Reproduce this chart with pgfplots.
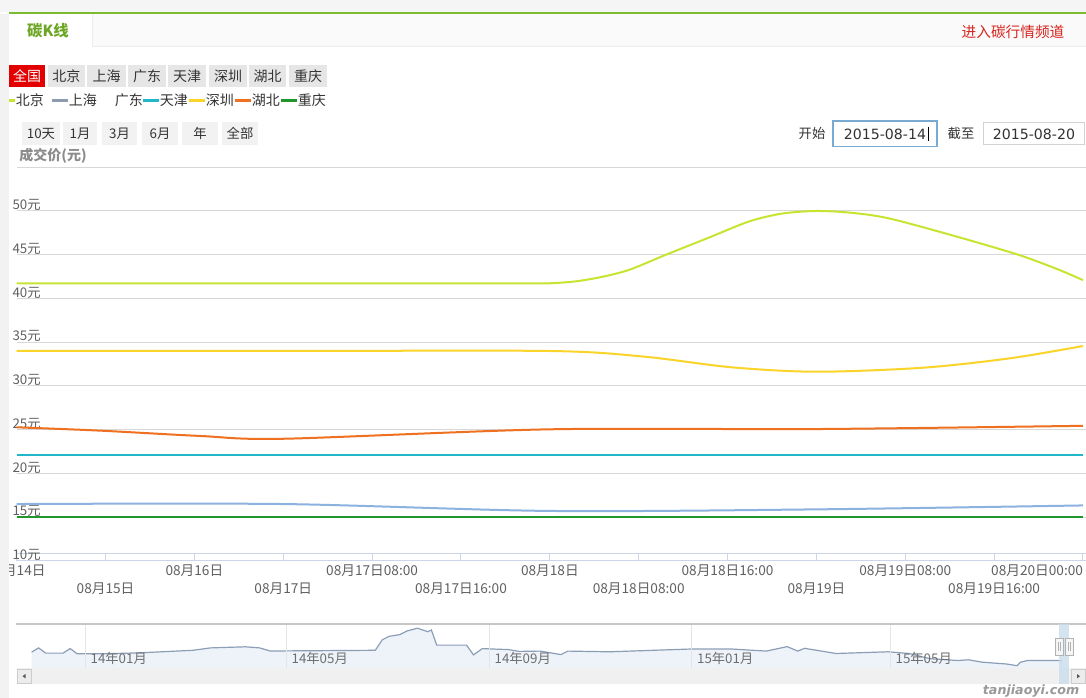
\documentclass[border=0pt]{standalone}
\usepackage{fontspec}
\setmainfont{Noto Sans CJK SC}
\newfontfamily\dejavu{DejaVu Sans}
\usepackage{pgfplots}
\pgfplotsset{compat=1.18}

\definecolor{bj}{RGB}{200,228,48}
\definecolor{sh}{RGB}{140,178,224}
\definecolor{shleg}{RGB}{140,155,175}
\definecolor{tj}{RGB}{32,184,200}
\definecolor{sz}{RGB}{250,212,40}
\definecolor{hb}{RGB}{238,112,32}
\definecolor{cq}{RGB}{32,150,44}
\definecolor{gridc}{RGB}{216,216,216}
\definecolor{axisc}{RGB}{204,214,235}
\definecolor{lab}{RGB}{96,96,96}
\definecolor{navlab}{RGB}{110,110,110}
\definecolor{txt}{RGB}{51,51,51}
\definecolor{tabgreen}{RGB}{108,166,36}
\definecolor{topgreen}{RGB}{124,186,48}
\definecolor{redlink}{RGB}{214,38,30}
\definecolor{redbtn}{RGB}{226,0,0}
\definecolor{btnbg}{RGB}{230,230,230}
\definecolor{rngbg}{RGB}{242,242,242}
\definecolor{navline}{RGB}{140,158,182}
\definecolor{navfill}{RGB}{238,243,250}
\definecolor{navgrid}{RGB}{228,228,228}
\definecolor{boxblue}{RGB}{120,170,210}

\begin{document}
\begin{tikzpicture}
\useasboundingbox (0,0) rectangle (814.5pt,-523.5pt);
\clip (0,0) rectangle (814.5pt,-523.5pt);
\begin{scope}[x=0.75pt,y=-0.75pt]
\fill[white] (0,0) rectangle (1086,698);
% top shade and header
\fill[gray!8] (0,0) rectangle (1086,12.5);
\draw[topgreen, line width=1.5pt] (9,13.5) -- (1086,13.5);
\fill[gray!4] (92,14.5) rectangle (1086,47);
\draw[gray!15, line width=0.75pt] (92,47) -- (1086,47);
\draw[gray!15, line width=0.75pt] (92,14.5) -- (92,47);
\node[text=tabgreen, font=\bfseries\fontsize{11.5}{13}\selectfont] at (48,31) {碳K线};
\node[text=redlink, font=\fontsize{11}{13}\selectfont] at (1013,32) {进入碳行情频道};
% region buttons
\fill[redbtn] (9,65) rectangle (45,87);
\node[text=white, font=\fontsize{10.5}{12}\selectfont] at (27,76) {全国};
\foreach \a/\b/\t in {48/85/北京,87/126/上海,128/166/广东,168/206/天津,209/247/深圳,249/286/湖北,289/327/重庆}{
  \fill[btnbg] (\a,65) rectangle (\b,87);
  \node[text=txt, font=\fontsize{10.5}{12}\selectfont] at ({(\a+\b)/2},76) {\t};
}
% legend row
\foreach \a/\b/\c/\t in {9/15/bj/北京,52/68/shleg/上海,98/114/white/广东,143/159/tj/天津,189/205/sz/深圳,235/251/hb/湖北,281/297/cq/重庆}{
  \draw[\c, line width=2.25pt] (\a,101) -- (\b,101);
  \node[anchor=west, inner sep=0.5pt, text=txt, font=\fontsize{10.5}{12}\selectfont] at (\b,100.5) {\t};
}
% range buttons
\foreach \a/\b/\t in {22/60/10天,63/97/1月,102/137/3月,142/178/6月,182/218/年,222/258/全部}{
  \fill[rngbg] (\a,122) rectangle (\b,145);
  \node[text=txt, font=\fontsize{10}{12}\selectfont] at ({(\a+\b)/2},133.5) {\t};
}
\node[text=gray!90, font=\bfseries\fontsize{10.5}{12}\selectfont] at (53,156) {成交价(元)};
% date inputs
\node[text=txt, font=\fontsize{10}{12}\selectfont] at (812,133) {开始};
\draw[boxblue, line width=1.1pt, fill=white] (833,121) rectangle (937,146.5);
\node[text=txt, font=\dejavu\fontsize{10.6}{12}\selectfont] at (885,134) {2015-08-14};
\draw[black, line width=0.75pt] (928,127) -- (928,141);
\node[text=txt, font=\fontsize{10}{12}\selectfont] at (961,133) {截至};
\draw[gray!35, line width=0.75pt, fill=white] (983,122.5) rectangle (1084,145);
\node[text=txt, font=\dejavu\fontsize{10.6}{12}\selectfont] at (1034,134) {2015-08-20};
\end{scope}

% ---------------- main chart ----------------
\begin{axis}[
  at={(12.525pt,-420.75pt)}, anchor=south west,
  scale only axis, width=801.975pt, height=295.3125pt,
  xmin=0, xmax=4.0113, ymin=10, ymax=55,
  axis line style={draw=none},
  ytick={15,20,...,55},
  yticklabels={15元,20元,25元,30元,35元,40元,45元,50元,{}},
  extra y ticks={10,10.914},
  extra y tick labels={10元,{}},
  extra y tick style={grid=major, major grid style={color=axisc, line width=0.75pt}, tick style={draw=none}},
  ymajorgrids, major grid style={color=gridc, line width=0.75pt},
  ytick style={draw=none},
  yticklabel style={anchor=base west, inner sep=0pt, xshift=-3.3pt, yshift=1.1pt,
    font=\fontsize{10}{12}\selectfont, text=lab},
  major tick length=6pt,
  xtick pos=bottom, tick align=inside,
  xtick style={color=axisc, line width=0.75pt},
  xtick={0,0.666667,1.333333,2,2.666667,3.333333,4},
  xticklabels={08月14日,08月16日,08月17日08:00,08月18日,08月18日16:00,08月19日08:00,\llap{08月20日00:00}},
  extra x ticks={0.333333,1,1.666667,2.333333,3,3.666667},
  extra x tick labels={08月15日,08月17日,08月17日16:00,08月18日08:00,08月19日,08月19日16:00},
  extra x tick style={xticklabel style={yshift=-13.5pt}},
  xticklabel style={anchor=base, inner sep=0pt, yshift=-11.25pt,
    font=\fontsize{10.25}{12}\selectfont, text=lab},
]
% 北京
\addplot[bj, line width=1.5pt, smooth] coordinates {
 (0,41.74) (1,41.74) (1.8,41.74) (1.9,41.74) (2,41.74) (2.1,41.97) (2.2,42.5) (2.3,43.3) (2.433,44.97)
 (2.6,47.0) (2.747,48.8) (2.87,49.7) (3,50.0) (3.13,49.8) (3.27,49.17)
 (3.5,47.3) (3.752,45.05) (3.9,43.4) (4,42.1)};
% 上海
\addplot[sh, line width=1.5pt, smooth] coordinates {
 (0,16.51) (1,16.51) (2,15.72) (3,15.9) (4,16.35)};
% 天津
\addplot[tj, line width=1.5pt] coordinates {(0,22.11) (1,22.11) (2,22.11) (3,22.11) (4,22.11)};
% 深圳
\addplot[sz, line width=1.5pt, smooth] coordinates {
 (0,34.0) (1,34.0) (2,34.0) (2.355,33.35) (2.681,32.14) (3,31.63)
 (3.40,32.09) (3.727,33.17) (4,34.57)};
% 湖北
\addplot[hb, line width=1.5pt, smooth] coordinates {
 (0,25.28) (0.312,24.9) (0.688,24.29) (1,23.97) (2,25.05) (3,25.08) (4,25.45)};
% 重庆
\addplot[cq, line width=1.5pt] coordinates {(0,15.0) (1,15.0) (2,15.0) (3,15.0) (4,15.0)};
\end{axis}

% ---------------- navigator ----------------
\begin{axis}[
  at={(12.525pt,-501pt)}, anchor=south west,
  scale only axis, width=801.975pt, height=33pt,
  xmin=16.7, xmax=1086, ymin=0, ymax=44,
  axis line style={draw=none}, ytick=\empty, axis on top,
  xtick={85,286,489,691.5,890},
  xticklabels={14年01月,14年05月,14年09月,15年01月,15年05月},
  xmajorgrids, major grid style={color=navgrid, line width=0.75pt},
  xtick style={draw=none},
  xticklabel style={anchor=base west, inner sep=0pt, xshift=4pt, yshift=3pt,
    font=\fontsize{10}{12}\selectfont, text=navlab},
]
\addplot[fill=navfill, draw=none] coordinates {
 (31.6,15.9) (38.6,20.1) (45.6,14.9) (63.1,14.9) (70.2,19.4) (77.2,14.2) (105.2,14.2)
 (140.3,15.2) (192.9,17.7) (210.5,20.1) (245.5,21.2) (259.6,20.1) (270.1,17.0)
 (375.3,17.7) (382.3,28.2) (389.3,31.7) (399.9,33.4) (406.9,37.0) (417.4,39.8)
 (427.9,36.3) (431.4,38.0) (436.7,22.9) (466.5,22.9) (473.5,13.1) (482.3,19.4)
 (508.6,18.4) (519.1,16.6) (540,16.9) (560.9,13.4) (567.9,16.9) (609.6,16.2)
 (691.5,19.0) (731.5,19.0) (766.3,16.9) (787.2,21.4) (797.7,16.9) (804.6,19.7)
 (836,14.5) (888.2,16.2) (909.1,14.5) (923,11.0) (930,9.3) (957.8,7.5) (968.3,8.2)
 (982.2,5.8) (1006.6,4.0) (1017,2.3) (1020.5,5.8) (1027.5,7.5) (1062,7.5)} \closedcycle;
\addplot[navline, line width=0.9pt] coordinates {
 (31.6,15.9) (38.6,20.1) (45.6,14.9) (63.1,14.9) (70.2,19.4) (77.2,14.2) (105.2,14.2)
 (140.3,15.2) (192.9,17.7) (210.5,20.1) (245.5,21.2) (259.6,20.1) (270.1,17.0)
 (375.3,17.7) (382.3,28.2) (389.3,31.7) (399.9,33.4) (406.9,37.0) (417.4,39.8)
 (427.9,36.3) (431.4,38.0) (436.7,22.9) (466.5,22.9) (473.5,13.1) (482.3,19.4)
 (508.6,18.4) (519.1,16.6) (540,16.9) (560.9,13.4) (567.9,16.9) (609.6,16.2)
 (691.5,19.0) (731.5,19.0) (766.3,16.9) (787.2,21.4) (797.7,16.9) (804.6,19.7)
 (836,14.5) (888.2,16.2) (909.1,14.5) (923,11.0) (930,9.3) (957.8,7.5) (968.3,8.2)
 (982.2,5.8) (1006.6,4.0) (1017,2.3) (1020.5,5.8) (1027.5,7.5) (1062,7.5)};
\end{axis}

\begin{scope}[x=0.75pt,y=-0.75pt]
% navigator frame, scrollbar
\draw[gray!45, line width=1.2pt] (16,624) -- (1086,624);
\fill[gray!12] (16.7,668) rectangle (1086,684);
\draw[gray!40, fill=gray!15, line width=0.6pt] (17,669.5) rectangle (31,683);
\fill[gray!70!black] (22.5,676.2) -- (25.5,674) -- (25.5,678.4) -- cycle;
\fill[boxblue!40, opacity=0.8] (1059,624) rectangle (1069,684);
\draw[gray!40, fill=gray!15, line width=0.6pt] (1071,669.5) rectangle (1085,683);
\fill[gray!70!black] (1080,676.2) -- (1077,674) -- (1077,678.4) -- cycle;
\foreach \a in {1055,1065}{
  \draw[gray!60, fill=gray!8, line width=0.6pt] (\a,638) rectangle (\a+8,655);
  \draw[gray!60, line width=0.5pt] (\a+3,642) -- (\a+3,651) (\a+5,642) -- (\a+5,651);
}
\node[anchor=east, text=gray!80, font=\dejavu\bfseries\itshape\fontsize{9.5}{11}\selectfont] at (1084,691) {tanjiaoyi.com};
% left page strip
\fill[gray!10] (0,14) rectangle (9,698);
\end{scope}
\end{tikzpicture}
\end{document}
